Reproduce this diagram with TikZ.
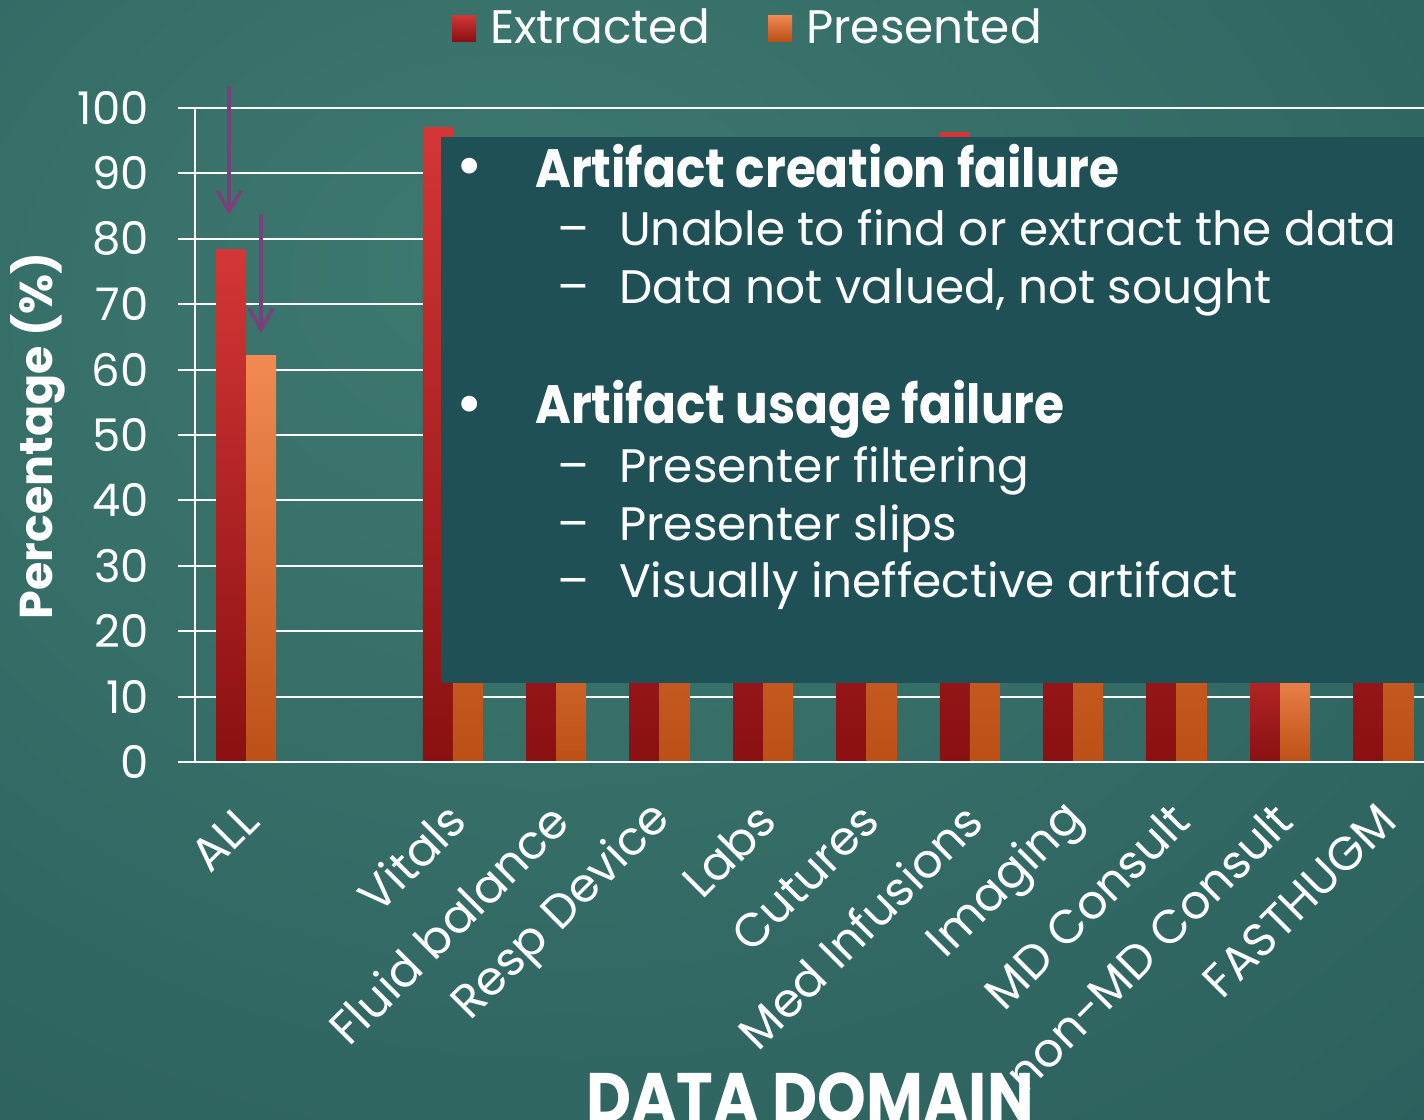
\documentclass[tikz,border=0pt]{standalone}
\usepackage{fontspec}
\setmainfont{Poppins}
\usetikzlibrary{arrows.meta}
\definecolor{bga}{RGB}{61,121,112}
\definecolor{bgb}{RGB}{56,113,106}
\definecolor{bgc}{RGB}{45,98,95}
\definecolor{bgd}{RGB}{35,84,89}
\definecolor{bge}{RGB}{29,74,81}
\definecolor{boxc}{RGB}{31,80,86}
\definecolor{redtop}{RGB}{212,54,54}
\definecolor{redbot}{RGB}{138,16,18}
\definecolor{orgtop}{RGB}{242,138,82}
\definecolor{orgbot}{RGB}{188,80,22}
\definecolor{arrowc}{RGB}{123,63,122}
\pgfdeclareradialshading{bgshade}{\pgfpoint{-8bp}{14bp}}{color(0bp)=(bga); color(15bp)=(bgb); color(40bp)=(bgc); color(60bp)=(bgd); color(80bp)=(bge)}
\begin{document}
\begin{tikzpicture}[x=1pt,y=-1pt,
  redbar/.style={top color=redtop,bottom color=redbot},
  orgbar/.style={top color=orgtop,bottom color=orgbot},
  grid/.style={draw=white,line width=2pt},
  txt/.style={text=white,inner sep=0pt,font=\fontsize{47}{52}\selectfont},
  bullettxt/.style={text=white,inner sep=0pt,font=\fontsize{64}{64}\selectfont},
  boldtxt/.style={text=white,inner sep=0pt,font=\fontsize{54}{60}\selectfont\bfseries},
  ticklbl/.style={text=white,inner sep=0pt,font=\fontsize{45}{50}\selectfont,anchor=east},
  catlbl/.style={text=white,inner sep=0pt,font=\fontsize{47}{52}\selectfont,rotate=45,anchor=east},
  arrowst/.style={draw=arrowc,line width=3.5pt,-{Straight Barb[length=21pt,width=24pt,line width=3.5pt]}}
]
\useasboundingbox (0,0) rectangle (1424,1119);
\clip (0,0) rectangle (1424,1119);
\fill[shading=bgshade] (0,0) rectangle (1424,1119);

% gridlines and tick labels
\foreach \v in {0,...,10} {
  \pgfmathtruncatemacro\lbl{\v*10}
  \draw[grid] (178,{762-65.4*\v}) -- (1424,{762-65.4*\v});
  \node[ticklbl] (t\v) at (149,{762-65.4*\v}) {\lbl};
}
\draw[grid] (195,108) -- (195,762);

% bars
\foreach \k/\e/\p in {0/78.3/62.2, 2/97/85, 3/90/39, 4/88/80, 5/85/82, 6/86/80, 7/96.2/85, 8/88/82, 9/87/84, 10/23/15, 11/88/84} {
  \pgfmathsetmacro\cx{246+103.4*\k}
  \fill[redbar] ({\cx-30},762) rectangle (\cx,{762-6.54*\e});
  \fill[orgbar] (\cx,762) rectangle ({\cx+30},{762-6.54*\p});
}
\draw[grid] (178,762) -- (1424,762);

% overlay box
\fill[boxc] (441,137) rectangle (1424,683);
\node[bullettxt,anchor=center] (b1) at (470,173) {•};
\node[boldtxt,anchor=base west] (h1) at (535,187) {\scalebox{0.9}[1]{Artifact creation failure}};
\node[txt,anchor=base west] (d1) at (557,245) {–};
\node[txt,anchor=base west] (s1) at (619,245) {Unable to find or extract the data};
\node[txt,anchor=base west] (d2) at (557,303) {–};
\node[txt,anchor=base west] (s2) at (619,303) {Data not valued, not sought};
\node[bullettxt,anchor=center] (b2) at (470,411) {•};
\node[boldtxt,anchor=base west] (h2) at (535,423) {\scalebox{0.9}[1]{Artifact usage failure}};
\node[txt,anchor=base west] (d3) at (557,482) {–};
\node[txt,anchor=base west] (s3) at (619,482) {Presenter filtering};
\node[txt,anchor=base west] (d4) at (557,540) {–};
\node[txt,anchor=base west] (s4) at (619,540) {Presenter slips};
\node[txt,anchor=base west] (d5) at (557,597) {–};
\node[txt,anchor=base west] (s5) at (619,597) {Visually ineffective artifact};

% legend
\fill[redbar] (452,15) rectangle (476,41);
\node[txt,anchor=base west] (le) at (490,43) {Extracted};
\fill[orgbar] (768,15) rectangle (792,41);
\node[txt,anchor=base west] (lp) at (806,43) {Presented};

% arrows
\coordinate (a1s) at (229,86);
\coordinate (a1e) at (229,215);
\coordinate (a2s) at (261,214);
\coordinate (a2e) at (261,333);
\draw[arrowst] (a1s) -- (a1e);
\draw[arrowst] (a2s) -- (a2e);

% axis titles
\node[text=white,inner sep=0pt,rotate=90,font=\fontsize{46}{52}\selectfont\bfseries] (yt) at (38,436) {Percentage (\%)};
\node[text=white,inner sep=0pt,anchor=base,font=\fontsize{70}{76}\selectfont\bfseries] (xt) at (810,1122) {\scalebox{0.886}[1]{DATA DOMAIN}};

% category labels
\foreach \k/\t in {0/ALL,2/Vitals,3/Fluid balance,4/Resp Device,5/Labs,6/Cutures,7/Med Infusions,8/Imaging,9/MD Consult,10/non-MD Consult,11/FASTHUGM} {
  \pgfmathsetmacro\cx{246+103.4*\k}
  \node[catlbl] (c\k) at ({\cx+4},812) {\t};
}
\end{tikzpicture}
\end{document}
